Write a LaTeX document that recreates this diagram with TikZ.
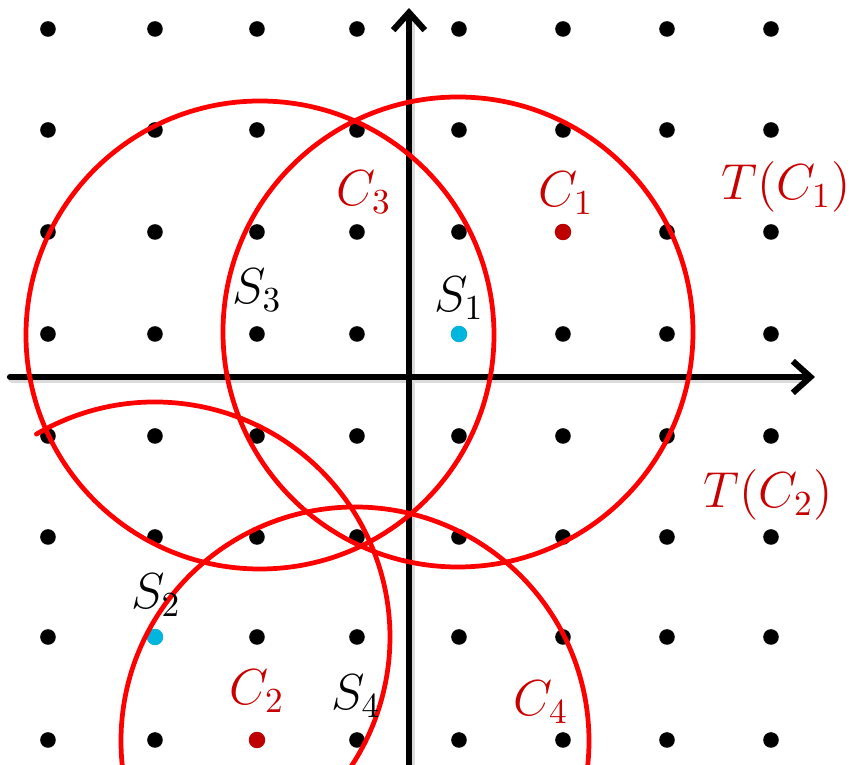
\documentclass[tikz,border=0pt]{standalone}
\usepackage{amsmath,amssymb}
\usepackage{tikz}
\usetikzlibrary{arrows.meta}
\definecolor{ringRed}{RGB}{255, 0, 0}
\definecolor{labelRed}{RGB}{200, 0, 0}
\definecolor{dotRed}{RGB}{190, 0, 0}
\definecolor{dotCyan}{RGB}{0, 182, 222}

\begin{document}
\begin{tikzpicture}[line join=round, line cap=round]
\useasboundingbox (-4.09,-3.88) rectangle (4.45,3.77);
\clip (-4.09,-3.88) rectangle (4.45,3.77);
\coordinate (O) at (0.000,0.000);
\coordinate (X0) at (-3.990,0.000);
\coordinate (X) at (4.060,0.000);
\coordinate (Y0) at (0.000,-3.950);
\coordinate (Y) at (0.000,3.690);
\coordinate (S1) at (0.490,0.450);
\coordinate (S2) at (-2.540,-2.600);
\coordinate (S3) at (-1.490,0.420);
\coordinate (S4) at (-0.540,-3.640);
\coordinate (P1) at (1.540,1.450);
\coordinate (P2) at (-1.520,-3.630);
% lattice
\foreach \x in {-3.61,-2.54,-1.52,-0.52,0.50,1.54,2.58,3.62}
  \foreach \y in {3.48,2.47,1.45,0.43,-0.59,-1.60,-2.60,-3.63}
    \fill (\x,\y) circle (0.078);
\fill[dotCyan] (0.500,0.430) circle (0.082);
\fill[dotCyan] (S2) circle (0.082);
\fill[dotRed] (P1) circle (0.082);
\fill[dotRed] (P2) circle (0.082);
% axes
\draw[line width=2.2pt, black!14, shorten >=4pt, transform canvas={shift={(0.6pt,-0.6pt)}}] (X0) -- (X);
\draw[line width=2.2pt, black!14, shorten >=4pt, transform canvas={shift={(0.6pt,-0.6pt)}}] (Y0) -- (Y);
\draw[line width=1.75pt, -{Straight Barb[length=5pt, width=9pt]}] (X0) -- (X);
\draw[line width=1.75pt, -{Straight Barb[length=5pt, width=9pt]}] (Y0) -- (Y);
% circles
\draw[ringRed, line width=1.35pt] (S1) circle (2.35);
\draw[ringRed, line width=1.35pt] (S3) circle (2.34);
\draw[ringRed, line width=1.35pt] (S4) circle (2.34);
\draw[ringRed, line width=1.35pt] (S2) ++(120.3:2.35) arc[start angle=120.3, end angle=-40, radius=2.35];
% labels
\node[font=\fontsize{14.5}{17}\selectfont, inner sep=0pt, text=labelRed] (lC3) at (-0.450,1.850) {$C_3$};
\node[font=\fontsize{14.5}{17}\selectfont, inner sep=0pt, text=labelRed] (lC1) at (1.570,1.840) {$C_1$};
\node[font=\fontsize{14.5}{17}\selectfont, inner sep=0pt, text=labelRed] (lT1) at (3.770,1.900) {$T(C_1)$};
\node[font=\fontsize{14.5}{17}\selectfont, inner sep=0pt, text=labelRed] (lT2) at (3.590,-1.180) {$T(C_2)$};
\node[font=\fontsize{14.5}{17}\selectfont, inner sep=0pt, text=labelRed] (lC2) at (-1.520,-3.140) {$C_2$};
\node[font=\fontsize{14.5}{17}\selectfont, inner sep=0pt, text=labelRed] (lC4) at (1.320,-3.250) {$C_4$};
\node[font=\fontsize{14.5}{17}\selectfont, inner sep=0pt] (lS3) at (-1.520,0.870) {$S_3$};
\node[font=\fontsize{14.5}{17}\selectfont, inner sep=0pt] (lS1) at (0.500,0.790) {$S_1$};
\node[font=\fontsize{14.5}{17}\selectfont, inner sep=0pt] (lS2) at (-2.530,-2.180) {$S_2$};
\node[font=\fontsize{14.5}{17}\selectfont, inner sep=0pt] (lS4) at (-0.530,-3.190) {$S_4$};
\end{tikzpicture}
\end{document}
